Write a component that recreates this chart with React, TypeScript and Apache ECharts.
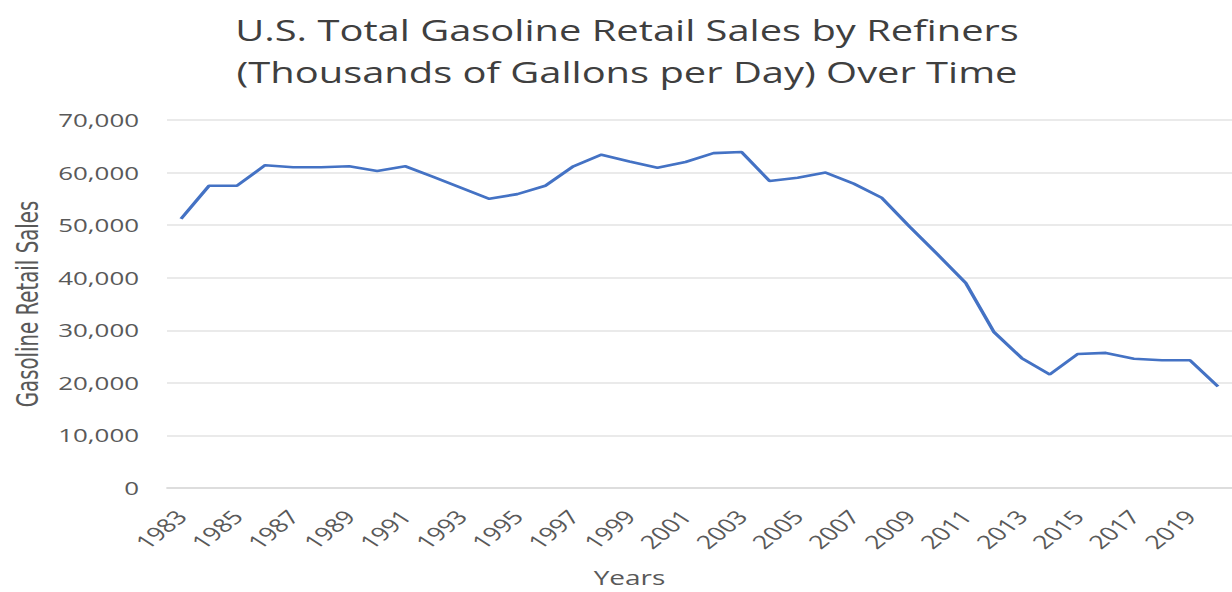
import React, { useEffect, useRef } from "react";
import * as echarts from "echarts";

const years: string[] = [
  "1983", "1984", "1985", "1986", "1987", "1988", "1989", "1990", "1991", "1992",
  "1993", "1994", "1995", "1996", "1997", "1998", "1999", "2000", "2001", "2002",
  "2003", "2004", "2005", "2006", "2007", "2008", "2009", "2010", "2011", "2012",
  "2013", "2014", "2015", "2016", "2017", "2018", "2019", "2020",
];

const sales: number[] = [
  51200, 57500, 57500, 61400, 61000, 61000, 61200, 60300, 61200, 59200,
  57100, 55000, 55900, 57500, 61200, 63400, 62100, 60900, 62000, 63700,
  63900, 58400, 59000, 60000, 57900, 55200, 49700, 44400, 39000, 29700,
  24700, 21600, 25500, 25700, 24600, 24300, 24300, 19300,
];

const titleText = "U.S. Total Gasoline Retail Sales by Refiners\n(Thousands of Gallons per Day) Over Time";

// The reference picture is horizontally stretched; render narrower and scale.
const STRETCH = 1.4;
const FULL_W = 1232;
const FULL_H = 592;

export default function App() {
  const ref = useRef<HTMLDivElement>(null);
  useEffect(() => {
    if (!ref.current) return;
    const chart = echarts.init(ref.current, null, { renderer: "svg" });
    const s = (v: number) => v / STRETCH;
    chart.setOption({
      animation: false,
      backgroundColor: "#ffffff",
      title: {
        text: titleText,
        left: s(620),
        textAlign: "center",
        top: 4,
        textStyle: {
          fontFamily: "Open Sans",
          fontSize: 28.5,
          fontWeight: "normal",
          color: "#3f3f3f",
          lineHeight: 42,
        },
      },
      grid: { left: s(160), right: s(-14), top: 120, height: 369, containLabel: false },
      xAxis: {
        type: "category",
        data: years,
        boundaryGap: true,
        name: "Years",
        nameLocation: "middle",
        nameGap: 79,
        nameTextStyle: {
          fontFamily: "Open Sans",
          fontSize: 20,
          color: "#595959",
          padding: [0, 100, 0, 0],
        },
        axisLine: { show: true, lineStyle: { color: "#d9d9d9", width: 1.5 } },
        axisTick: { show: false },
        axisLabel: {
          interval: 1,
          rotate: 48,
          margin: 25,
          fontFamily: "Open Sans",
          fontSize: 19,
          color: "#595959",
        },
      },
      yAxis: {
        type: "value",
        min: 0,
        max: 70000,
        interval: 10000,
        name: "Gasoline Retail Sales",
        nameLocation: "middle",
        nameGap: s(125),
        nameRotate: 90,
        nameTextStyle: {
          fontFamily: "'DejaVu Sans Condensed', 'Open Sans'",
          fontSize: 22,
          color: "#595959",
        },
        axisLine: { show: false },
        axisTick: { show: false },
        axisLabel: {
          margin: s(28),
          fontFamily: "Open Sans",
          fontSize: 18.5,
          color: "#595959",
          formatter: (v: number) => v.toLocaleString("en-US"),
        },
        splitLine: { lineStyle: { color: "#e3e3e3", width: 1.5 } },
      },
      series: [
        {
          type: "line",
          data: sales,
          symbol: "none",
          lineStyle: { color: "#4472c4", width: 2.6 },
        },
      ],
    });
    return () => chart.dispose();
  }, []);
  return (
    <div
      style={{
        position: "fixed",
        left: 0,
        top: 0,
        width: FULL_W,
        height: FULL_H,
        overflow: "hidden",
        background: "#ffffff",
      }}
    >
      <div
        ref={ref}
        style={{
          width: FULL_W / STRETCH,
          height: FULL_H,
          transform: `scaleX(${STRETCH})`,
          transformOrigin: "0 0",
        }}
      />
    </div>
  );
}
